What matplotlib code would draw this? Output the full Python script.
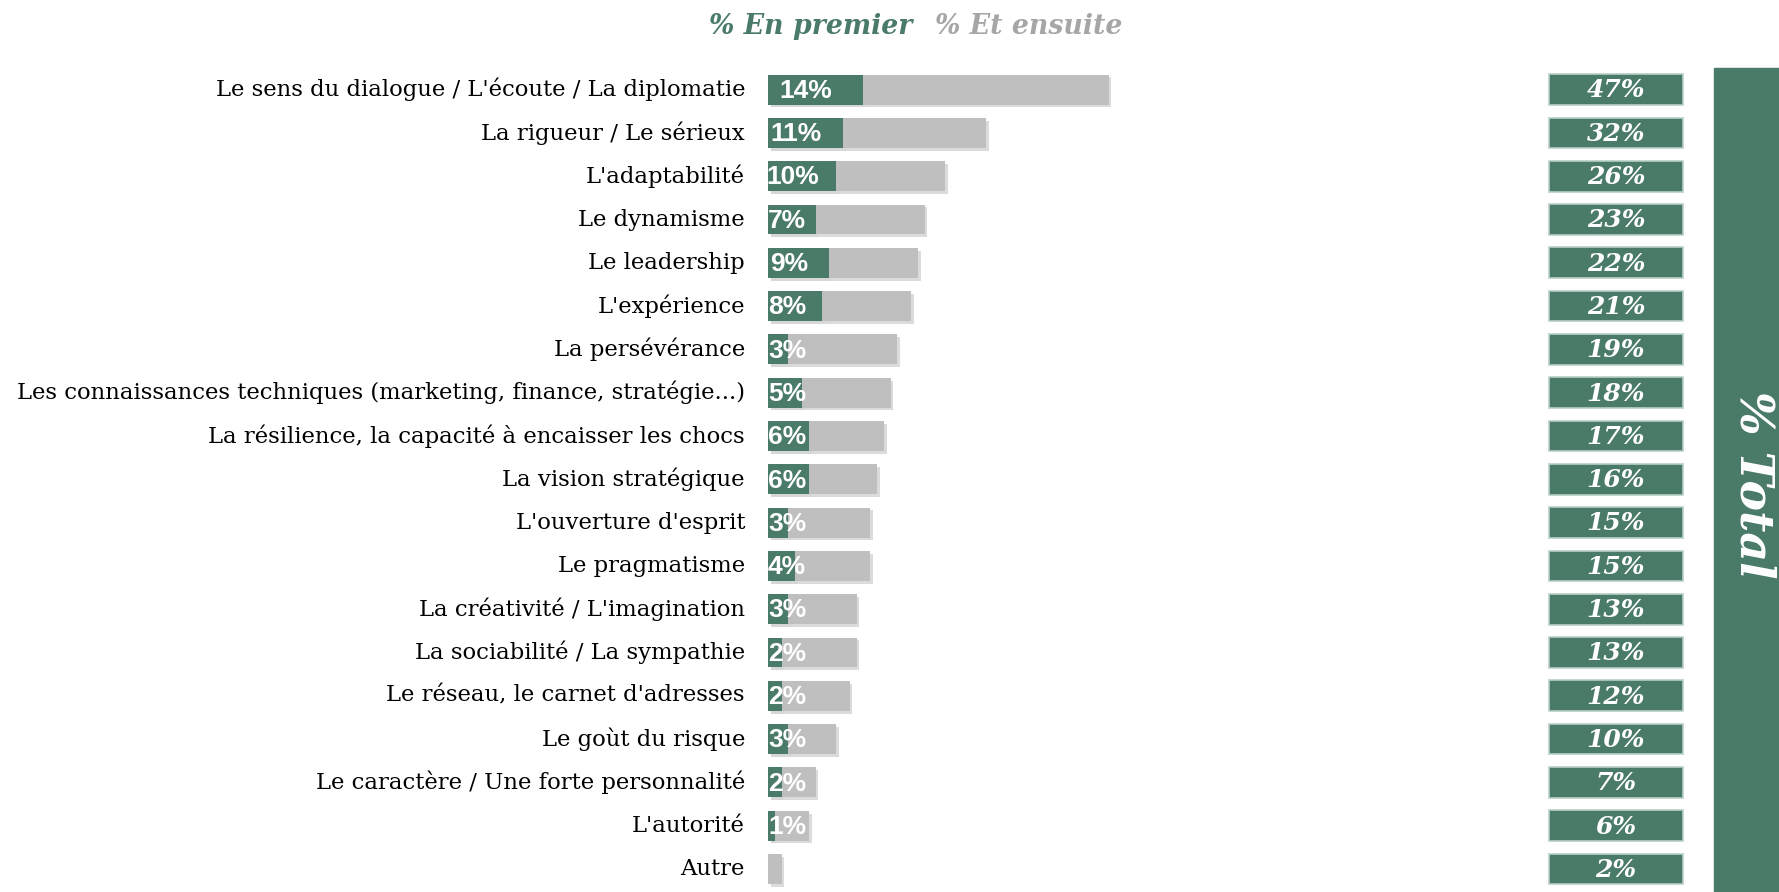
import matplotlib
matplotlib.use("Agg")
import matplotlib.pyplot as plt
import matplotlib.patheffects as pe
from matplotlib import font_manager as fm
from matplotlib.patches import Rectangle

# data
categories = [
    "Le sens du dialogue / L'écoute / La diplomatie",
    "La rigueur / Le sérieux",
    "L'adaptabilité",
    "Le dynamisme",
    "Le leadership",
    "L'expérience",
    "La persévérance",
    "Les connaissances techniques (marketing, finance, stratégie...)",
    "La résilience, la capacité à encaisser les chocs",
    "La vision stratégique",
    "L'ouverture d'esprit",
    "Le pragmatisme",
    "La créativité / L'imagination",
    "La sociabilité / La sympathie",
    "Le réseau, le carnet d'adresses",
    "Le goùt du risque",
    "Le caractère / Une forte personnalité",
    "L'autorité",
    "Autre",
]
en_premier = [14, 11, 10, 7, 9, 8, 3, 5, 6, 6, 3, 4, 3, 2, 2, 3, 2, 1, 0]
et_ensuite = [36, 21, 16, 16, 13, 13, 16, 13, 11, 10, 12, 11, 10, 11, 10, 7, 5, 5, 2]
total = [47, 32, 26, 23, 22, 21, 19, 18, 17, 16, 15, 15, 13, 13, 12, 10, 7, 6, 2]

GREEN = "#4a7a68"
GREY = "#bfbfbf"
HEAD_GREY = "#a6a6a6"
SERIF = "DejaVu Serif"

# pick the regular-width Liberation Sans Bold (not the Narrow one)
sans_bold = None
for f in fm.fontManager.ttflist:
    if f.name == "Liberation Sans" and f.weight in (700, "bold") and f.style == "normal" \
            and "Narrow" not in f.fname:
        sans_bold = fm.FontProperties(fname=f.fname, size=19)
        break
if sans_bold is None:
    sans_bold = fm.FontProperties(family="DejaVu Sans", weight="bold", size=17)

W, H = 1779, 892
fig = plt.figure(figsize=(W / 100, H / 100), dpi=100)

px_per_pct = 6.81
x0 = 768
ax_left = x0 / W
xmax = (W - x0) / px_per_pct
row_h = 43.3
top_px = 89.6 - row_h / 2
bot_px = top_px + row_h * len(categories)
ax = fig.add_axes([ax_left, 1 - bot_px / H, 1 - ax_left, (bot_px - top_px) / H])
ax.set_xlim(0, xmax)
ax.set_ylim(len(categories) - 0.5, -0.5)
ax.axis("off")

ypos = list(range(len(categories)))
shadow = [pe.SimplePatchShadow(offset=(2, -2), alpha=0.18), pe.Normal()]

ax.barh(ypos, en_premier, height=0.69, color=GREEN, path_effects=shadow, zorder=2)
ax.barh(ypos, et_ensuite, left=en_premier, height=0.69, color=GREY,
        path_effects=shadow, zorder=2)

for i, (cat, v) in enumerate(zip(categories, en_premier)):
    ax.text(-23 / px_per_pct, i, cat, ha="right", va="center",
            fontsize=16.4, family=SERIF, color="black")
    if v > 0:
        ax.text(max(v / 2 - 1.4, 2.8), i + 0.03, f"{v}%", ha="center", va="center",
                fontproperties=sans_bold, color="white", zorder=3, clip_on=True)

# total boxes
box_left = (1549 - x0) / px_per_pct
box_w = (1683 - 1549) / px_per_pct
ax.barh(ypos, [box_w] * len(total), left=box_left, height=0.71, color=GREEN,
        edgecolor="#b8cfc6", linewidth=1.2, zorder=2)
for i, t in enumerate(total):
    ax.text(box_left + box_w / 2, i + 0.02, f"{t}%", ha="center", va="center",
            fontsize=18, family=SERIF, fontweight="bold", style="italic",
            color="white", zorder=3)

# side banner
fig.patches.append(Rectangle((1714 / W, 0), 1 - 1714 / W, 1 - 68 / H,
                             transform=fig.transFigure, color=GREEN, zorder=0))
fig.text(1753 / W, 1 - 485 / H, "% Total", rotation=-90, ha="center", va="center",
         fontsize=33, family=SERIF, fontweight="bold", style="italic", color="white")

# header legend
fig.text(811 / W, 1 - 26 / H, "% En premier", ha="center", va="center",
         fontsize=19.3, family=SERIF, fontweight="bold", style="italic", color=GREEN)
fig.text(1029 / W, 1 - 26 / H, "% Et ensuite", ha="center", va="center",
         fontsize=19.3, family=SERIF, fontweight="bold", style="italic", color=HEAD_GREY)

fig.savefig("out.png", dpi=100)
